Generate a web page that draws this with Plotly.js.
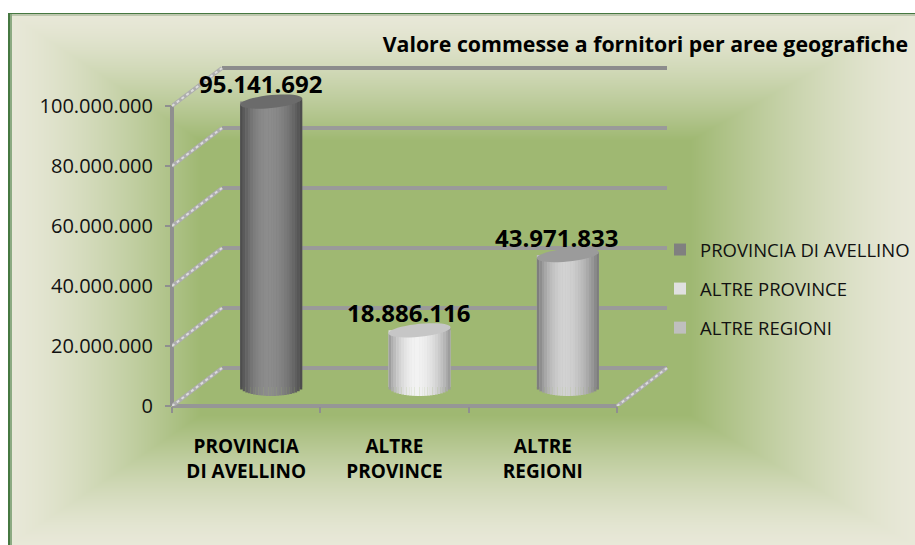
<!DOCTYPE html>
<html><head><meta charset="utf-8">
<script src="https://cdn.plot.ly/plotly-3.0.1.min.js"></script>
<style>html,body{margin:0;padding:0;background:#fff}#c{width:915px;height:545px}</style></head>
<body><div id="c"></div>
<script>
const categories = ['PROVINCIA DI AVELLINO','ALTRE PROVINCE','ALTRE REGIONI'];
const categoryLabels = ['PROVINCIA<br>DI AVELLINO','ALTRE<br>PROVINCE','ALTRE<br>REGIONI'];
const values = [95141692, 18886116, 43971833];
const yTicks = [0,20000000,40000000,60000000,80000000,100000000];
const legendColors = ['#808080','#e0e0e0','#bfbfbf'];
const edgeColors = [[72,72,72],[150,150,150],[118,118,118]];
const centerColors = [[140,140,140],[242,242,242],[210,210,210]];
const capColors = ['#6b6b6b','#c6c6c6','#9b9b9b'];
const titleText = 'Valore commesse a fornitori per aree geografiche';

const W=915,H=545, L=172,R=675,T=60,B=406;
const unit=100000000/300, catPx=445/3, depthX=50, depthY=38;
const cylW=62/catPx, capH=6.5, botH=9, tilt=3, N=24;
const FONT='"Open Sans", sans-serif';
const cat0=L+catPx/2;
const fx=p=>(p-L)/(R-L), fy=p=>(B-p)/(B-T);
const xMain=[(L-cat0)/catPx,(R-cat0)/catPx];
const xBack=[(L-cat0-depthX/2)/catPx,(R-cat0-depthX/2)/catPx];
const yMain=[0,(B-T)*unit];
const yBack=[-depthY/2*unit,(B-T-depthY/2)*unit];

function background(){
  const c=document.createElement('canvas');c.width=W;c.height=H;
  const g=c.getContext('2d'),im=g.createImageData(W,H);
  const e=[232,232,216],m=[159,184,114];
  for(let y=0;y<H;y++)for(let x=0;x<W;x++){
    let i=(y*W+x)*4;
    let px=[255,255,255];
    if(x>=8&&y>=13){
      let t=Math.min(1,Math.max(0,Math.min((x-8)/192,(W-x)/225,(y-13)/127,(H-y)/130)));
      t=Math.pow(t,1.4);
      px=e.map((v,k)=>v+(m[k]-v)*t);
      if(x<=9||y<=13) px=[70,120,65];
      else if(x<=11) px=[140,170,130];
      else if(y<=15) px=[190,200,175];
    }
    im.data[i]=px[0];im.data[i+1]=px[1];im.data[i+2]=px[2];im.data[i+3]=255;
  }
  g.putImageData(im,0,0);return c.toDataURL('image/png');
}
const grey=(c1,c2,s)=>'rgb('+c1.map((v,k)=>Math.round(v+(c2[k]-v)*s)).join(',')+')';

const traces=[{type:'scatter',mode:'markers',x:categories,y:values,xaxis:'x',yaxis:'y',
  marker:{opacity:0},showlegend:false,hoverinfo:'skip'}];
categories.forEach((c,i)=>traces.push({type:'bar',name:c,x:[c],y:[values[i]],xaxis:'x2',yaxis:'y2',
  width:[cylW],marker:{color:legendColors[i],line:{width:0}},legendgroup:c,hoverinfo:'x+y'}));
for(let k=0;k<N;k++){
  const t=(k+.5)/N,u=2*t-1;
  const bot=botH*Math.sqrt(1-u*u)*unit, top=tilt*u*unit;
  const d=(t-.45)/(t<.45?.45:.55);
  const s=1-d*d;
  traces.push({type:'bar',x:categories,y:values.map(v=>v+bot+top),base:values.map(()=>-bot),
    xaxis:'x2',yaxis:'y2',width:categories.map(()=>cylW/N*1.04),offset:categories.map(()=>-cylW/2+k*cylW/N),
    marker:{color:categories.map((_,i)=>grey(edgeColors[i],centerColors[i],s)),line:{width:0}},
    showlegend:false,hoverinfo:'skip'});
}
const shapes=[];
const grayLine='#9a9a9a';
const hatch=(a,b,v,y)=>{
  shapes.push({type:'line',layer:'below',xref:'x',yref:'y',x0:a,x1:b,y0:v,y1:y,line:{color:'#adadad',width:4}});
  shapes.push({type:'line',layer:'below',xref:'x',yref:'y',x0:a,x1:b,y0:v,y1:y,line:{color:'#dcdcdc',width:2,dash:'dot'}});
};
yTicks.forEach(v=>{
  const y=v+depthY*unit;
  shapes.push({type:'line',layer:'below',xref:'x',yref:'y',x0:(L+depthX-cat0)/catPx,x1:(L+445+depthX-cat0)/catPx,y0:y,y1:y,
    line:{color:v===100000000?'#8c8c8c':grayLine,width:4}});
  hatch(xMain[0],(L+depthX-cat0)/catPx,v,y);
});
hatch((L+445-cat0)/catPx,(L+445+depthX-cat0)/catPx,0,depthY*unit);
shapes.push({type:'line',layer:'below',xref:'x domain',yref:'y domain',x0:0,x1:0,y0:0,y1:300/(B-T),line:{color:'#8f8f8f',width:4}});
shapes.push({type:'line',layer:'below',xref:'x domain',yref:'y domain',x0:0,x1:445/(R-L),y0:0,y1:0,line:{color:'#969696',width:4}});
values.forEach((v,i)=>{
  const pts=[];
  for(let a=0;a<40;a++){
    const th=a/40*2*Math.PI,c=Math.cos(th),s=Math.sin(th);
    pts.push((a?'L':'M')+(i+cylW/2*c).toFixed(4)+','+(v+(capH*s+tilt*c)*unit).toFixed(0));
  }
  shapes.push({type:'path',layer:'above',xref:'x2',yref:'y2',path:pts.join(' ')+' Z',fillcolor:capColors[i],line:{width:0}});
});
const fmt=v=>String(v).replace(/\B(?=(\d{3})+$)/g,'.');
const annotations=values.map((v,i)=>({xref:'x2',yref:'y2',x:i,y:v,xshift:-11,yshift:18,text:'<b>'+fmt(v)+'</b>',showarrow:false,
  font:{family:FONT,size:24,color:'#000'},xanchor:'center',yanchor:'middle'}));

Plotly.newPlot('c',traces,{
  width:W,height:H,paper_bgcolor:'rgba(0,0,0,0)',plot_bgcolor:'rgba(0,0,0,0)',
  margin:{l:L,r:W-R,t:T,b:H-B,pad:0,autoexpand:false},
  separators:',.',barmode:'overlay',hovermode:'closest',
  font:{family:FONT,color:'#000'},
  title:{text:'<b>'+titleText+'</b>',x:908/W,xanchor:'right',xref:'container',y:1-44.5/H,yanchor:'middle',font:{family:FONT,size:21.3,color:'#000'}},
  xaxis:{type:'category',categoryorder:'array',categoryarray:categories,tickmode:'array',tickvals:categories,ticktext:categoryLabels.map(s=>'<b>'+s+'</b>'),
    range:xMain,autorange:false,tickson:'boundaries',ticks:'outside',ticklen:6,tickcolor:'#8f8f8f',tickwidth:1.5,showgrid:false,zeroline:false,showline:false,
    ticklabelstandoff:27,tickfont:{family:FONT,size:19,color:'#000'},fixedrange:true},
  yaxis:{range:yMain,autorange:false,tickmode:'array',tickvals:yTicks,tickformat:',d',ticks:'outside',ticklen:6,tickcolor:'#8f8f8f',tickwidth:1.5,
    showgrid:false,zeroline:false,showline:false,ticklabelstandoff:8,tickfont:{family:FONT,size:20,color:'#111'},fixedrange:true},
  xaxis2:{type:'category',categoryorder:'array',categoryarray:categories,overlaying:'x',range:xBack,autorange:false,visible:false,fixedrange:true},
  yaxis2:{overlaying:'y',range:yBack,autorange:false,visible:false,fixedrange:true},
  legend:{x:fx(660),xanchor:'left',y:fy(231),yanchor:'top',traceorder:'grouped',tracegroupgap:12,bgcolor:'rgba(0,0,0,0)',font:{family:FONT,size:18.5,color:'#111'},itemclick:false,itemdoubleclick:false},
  images:[{source:background(),xref:'paper',yref:'paper',x:-L/(R-L),y:1+T/(B-T),sizex:W/(R-L),sizey:H/(B-T),xanchor:'left',yanchor:'top',sizing:'stretch',layer:'below'}],
  shapes,annotations
},{displayModeBar:false,responsive:false});
</script></body></html>
